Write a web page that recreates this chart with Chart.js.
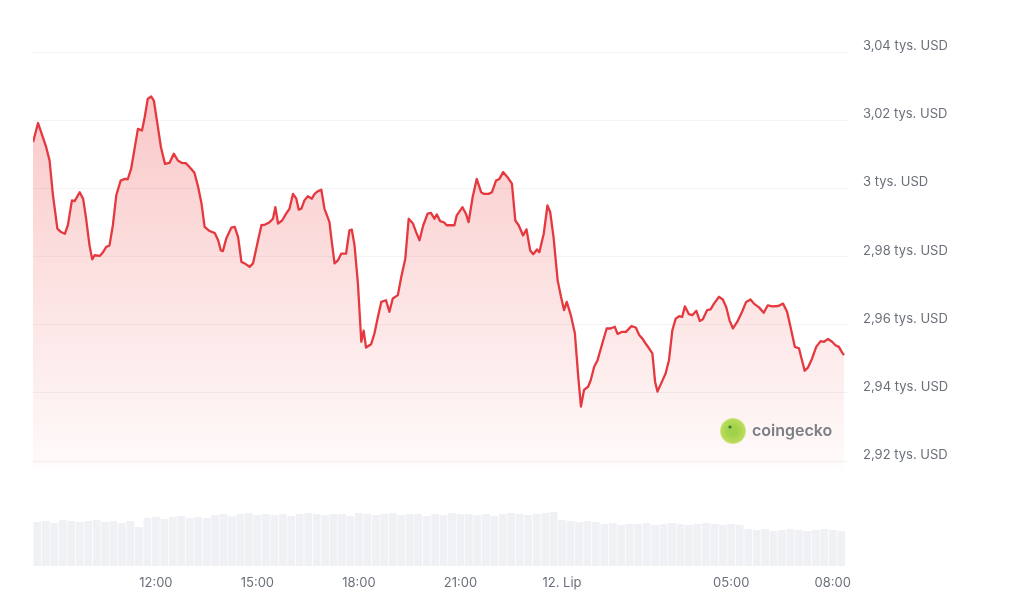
<!DOCTYPE html>
<html>
<head>
<meta charset="utf-8">
<title>ETH / USD</title>
<script src="https://cdn.jsdelivr.net/npm/chart.js@4"></script>
<style>
  body { margin: 0; background: #ffffff; }
  #wrap { width: 1024px; height: 608px; }
</style>
</head>
<body>
<div id="wrap"><canvas id="price-chart" width="1024" height="608"></canvas></div>
<script>
// czas w godzinach od polnocy 11. lip (24 = 12. Lip 00:00)
var priceTimes = [
  8.37, 8.52, 8.61, 8.76, 8.86, 8.96, 9.09, 9.20, 9.31, 9.40,
  9.52, 9.60, 9.75, 9.85, 9.94, 10.04, 10.12, 10.19, 10.34, 10.44,
  10.53, 10.63, 10.73, 10.83, 10.96, 11.08, 11.17, 11.27, 11.37, 11.47,
  11.59, 11.67, 11.76, 11.86, 11.94, 12.04, 12.15, 12.27, 12.40, 12.53,
  12.65, 12.77, 12.89, 13.04, 13.14, 13.25, 13.35, 13.44, 13.59, 13.74,
  13.84, 13.92, 13.98, 14.08, 14.23, 14.33, 14.43, 14.53, 14.62, 14.77,
  14.87, 15.02, 15.12, 15.23, 15.36, 15.46, 15.53, 15.61, 15.73, 15.85,
  15.95, 16.05, 16.15, 16.22, 16.30, 16.39, 16.49, 16.61, 16.69, 16.79,
  16.89, 16.98, 17.13, 17.18, 17.28, 17.38, 17.48, 17.62, 17.72, 17.79,
  17.87, 17.97, 18.07, 18.14, 18.21, 18.36, 18.46, 18.56, 18.66, 18.80,
  18.90, 19.00, 19.15, 19.25, 19.37, 19.47, 19.59, 19.69, 19.79, 19.90,
  20.03, 20.13, 20.23, 20.30, 20.40, 20.52, 20.59, 20.82, 20.89, 21.06,
  21.16, 21.24, 21.36, 21.48, 21.61, 21.70, 21.83, 21.93, 22.05, 22.15,
  22.26, 22.39, 22.52, 22.62, 22.72, 22.85, 22.95, 23.06, 23.15, 23.26,
  23.33, 23.46, 23.57, 23.65, 23.75, 23.87, 23.97, 24.06, 24.14, 24.26,
  24.38, 24.48, 24.56, 24.65, 24.77, 24.85, 24.95, 25.05, 25.19, 25.32,
  25.44, 25.56, 25.64, 25.76, 25.89, 26.05, 26.18, 26.28, 26.37, 26.47,
  26.57, 26.67, 26.75, 26.82, 26.93, 27.06, 27.16, 27.26, 27.36, 27.46,
  27.55, 27.63, 27.75, 27.85, 27.97, 28.07, 28.16, 28.29, 28.39, 28.49,
  28.64, 28.75, 28.85, 28.95, 29.05, 29.18, 29.32, 29.44, 29.57, 29.67,
  29.82, 29.96, 30.08, 30.21, 30.39, 30.53, 30.65, 30.75, 30.88, 31.00,
  31.09, 31.17, 31.27, 31.39, 31.51, 31.64, 31.74, 31.86, 31.98, 32.08,
  32.18, 32.26, 32.33
];

// cena w USD
var prices = [
  3013.6, 3019.2, 3016.5, 3012.1, 3008.2, 2998.0, 2988.2, 2987.2, 2986.7, 2989.2,
  2996.5, 2996.3, 2998.9, 2997.0, 2991.1, 2983.3, 2979.2, 2980.4, 2980.2, 2981.3,
  2982.8, 2983.3, 2989.2, 2998.0, 3002.3, 3002.8, 3002.7, 3005.8, 3011.6, 3017.5,
  3017.0, 3020.9, 3026.3, 3027.0, 3025.8, 3019.4, 3012.1, 3007.2, 3007.5, 3010.2,
  3008.2, 3007.5, 3007.4, 3005.8, 3004.6, 3000.4, 2995.5, 2988.7, 2987.5, 2986.9,
  2984.8, 2981.8, 2981.6, 2985.3, 2988.5, 2988.7, 2985.7, 2978.4, 2978.0, 2977.0,
  2978.0, 2984.8, 2989.2, 2989.4, 2990.1, 2991.1, 2994.5, 2989.7, 2990.6, 2992.6,
  2994.1, 2998.4, 2997.0, 2993.8, 2994.1, 2996.5, 2997.7, 2997.0, 2998.4, 2999.2,
  2999.6, 2994.1, 2990.1, 2985.7, 2978.0, 2978.9, 2980.9, 2980.9, 2987.7, 2987.9,
  2983.3, 2972.1, 2955.0, 2958.3, 2953.3, 2954.3, 2957.5, 2962.3, 2966.7, 2967.2,
  2963.8, 2967.7, 2968.7, 2974.0, 2979.4, 2991.1, 2989.8, 2987.2, 2984.8, 2989.2,
  2992.6, 2992.8, 2991.1, 2992.4, 2990.4, 2990.0, 2989.2, 2989.2, 2992.1, 2994.5,
  2992.6, 2990.1, 2997.5, 3002.8, 2998.9, 2998.4, 2998.4, 2998.9, 3002.3, 3002.8,
  3004.8, 3003.3, 3001.4, 2990.6, 2989.2, 2986.2, 2988.0, 2981.8, 2980.7, 2982.1,
  2981.3, 2986.7, 2995.0, 2993.1, 2985.7, 2973.1, 2968.2, 2964.3, 2966.7, 2962.8,
  2957.5, 2944.7, 2936.0, 2940.9, 2941.8, 2943.8, 2947.7, 2949.6, 2954.5, 2958.9,
  2958.9, 2959.4, 2957.3, 2957.9, 2957.9, 2959.6, 2959.2, 2957.0, 2956.0, 2954.5,
  2953.1, 2951.6, 2943.3, 2940.4, 2942.8, 2945.7, 2949.6, 2958.4, 2961.8, 2962.5,
  2962.3, 2965.4, 2963.1, 2962.8, 2964.1, 2961.1, 2961.6, 2964.3, 2964.5, 2966.2,
  2968.2, 2967.4, 2965.2, 2961.3, 2958.9, 2960.9, 2963.8, 2966.7, 2967.4, 2966.2,
  2965.1, 2963.5, 2965.7, 2965.4, 2965.5, 2966.2, 2963.8, 2959.4, 2953.5, 2953.1,
  2949.6, 2946.5, 2947.5, 2950.1, 2953.5, 2955.2, 2955.0, 2955.8, 2955.0, 2954.0,
  2953.5, 2952.1, 2951.1
];

// wolumen co 15 min (mln USD)
var volStart = 8.5;
var volStep = 0.25;
var volumes = [
  44, 45, 43, 46, 45, 44, 45, 46, 44, 45, 43, 45,
  39,
  48, 49, 47, 49, 50, 48, 49, 48,
  51, 52, 50, 52, 53, 51, 52, 51, 52, 50,
  52, 53, 52, 51, 52, 52, 50, 53, 52, 51,
  52, 53, 51, 52, 52, 50, 52, 51, 53, 52,
  52, 51, 52, 50, 52, 53, 52, 51, 52, 53,
  54,
  46, 45, 44, 45, 44,
  42, 43, 41, 42, 42, 43, 41, 42, 43, 42, 41, 42, 43, 42, 41, 42, 41,
  37, 36, 37, 35, 36, 37, 36, 35, 36, 37, 36, 35
];

var xTicks = [12, 15, 18, 21, 24, 29, 32];
var yTicks = [2920, 2940, 2960, 2980, 3000, 3020, 3040];

var lineColor = "#e5383f";
var textColor = "#6a7079";
var fontFamily = "Inter, 'Noto Sans', sans-serif";

function make_price_chart() {
  var priceData = priceTimes.map(function (t, i) {
    return { x: t, y: prices[i] };
  });
  var volumeData = volumes.map(function (v, i) {
    return { x: volStart + volStep * i, y: v };
  });

  var watermark = {
    id: "watermark",
    afterDatasetsDraw: function (chart) {
      var ctx = chart.ctx;
      ctx.save();
      var glow = ctx.createRadialGradient(733, 431, 4, 733, 431, 15);
      glow.addColorStop(0, "#9fd14a");
      glow.addColorStop(0.7, "#b9dc5a");
      glow.addColorStop(1, "rgba(240,230,140,0.2)");
      ctx.fillStyle = glow;
      ctx.beginPath();
      ctx.arc(733, 431, 13, 0, Math.PI * 2);
      ctx.fill();
      ctx.fillStyle = "#2e7d32";
      ctx.beginPath();
      ctx.arc(730, 427, 1.6, 0, Math.PI * 2);
      ctx.fill();
      ctx.fillStyle = "#7b7f85";
      ctx.font = "600 16px " + fontFamily;
      ctx.textBaseline = "middle";
      ctx.fillText("coingecko", 752, 431);
      ctx.restore();
    },
  };

  var config = {
    type: "line",
    data: {
      datasets: [
        {
          label: "Cena",
          data: priceData,
          yAxisID: "y",
          borderColor: lineColor,
          borderWidth: 2.3,
          pointRadius: 0,
          tension: 0,
          borderJoinStyle: "round",
          fill: "start",
          order: 1,
          backgroundColor: function (context) {
            var chart = context.chart;
            if (!chart.chartArea) {
              return "rgba(234,57,67,0.15)";
            }
            var g = chart.ctx.createLinearGradient(0, 90, 0, 472);
            g.addColorStop(0, "rgba(238,70,70,0.30)");
            g.addColorStop(0.5, "rgba(238,70,70,0.16)");
            g.addColorStop(0.97, "rgba(238,70,70,0.03)");
            g.addColorStop(1, "rgba(238,70,70,0)");
            return g;
          },
        },
        {
          type: "bar",
          label: "Wolumen",
          data: volumeData,
          yAxisID: "yv",
          backgroundColor: "#f0f1f5",
          barPercentage: 1,
          categoryPercentage: 0.92,
          order: 2,
        },
      ],
    },
    options: {
      responsive: false,
      animation: false,
      layout: { padding: { left: 33, top: 30, right: 0, bottom: 0 } },
      plugins: {
        legend: { display: false },
        tooltip: { enabled: false },
      },
      scales: {
        x: {
          type: "linear",
          min: 8.37,
          max: 32.42,
          offset: false,
          grid: { display: false, drawTicks: false },
          border: { display: false },
          afterBuildTicks: function (scale) {
            scale.ticks = xTicks.map(function (v) {
              return { value: v };
            });
          },
          afterFit: function (scale) {
            scale.height = 42;
          },
          ticks: {
            color: textColor,
            padding: 9,
            maxRotation: 0,
            autoSkip: false,
            font: { family: fontFamily, size: 13 },
            callback: function (v) {
              if (v === 24) {
                return "12. Lip";
              }
              var h = v % 24;
              return (h < 10 ? "0" + h : "" + h) + ":00";
            },
          },
        },
        y: {
          position: "right",
          min: 2889.2,
          max: 3046.5,
          grid: { color: "#f3f3f4", drawTicks: false },
          border: { display: false },
          afterBuildTicks: function (scale) {
            scale.ticks = yTicks.map(function (v) {
              return { value: v };
            });
          },
          afterFit: function (scale) {
            scale.width = 177;
          },
          ticks: {
            color: textColor,
            padding: 16,
            labelOffset: -6,
            font: { family: fontFamily, size: 13 },
            callback: function (v) {
              var s = (v / 1000).toFixed(2);
              s = s.replace(/\.?0+$/, "").replace(".", ",");
              return s + " tys. USD";
            },
          },
        },
        yv: {
          display: false,
          min: 0,
          max: 536,
        },
      },
    },
    plugins: [watermark],
  };

  var canvas = document.getElementById("price-chart");
  if (canvas.chart) {
    canvas.chart.destroy();
  }
  canvas.chart = new Chart(canvas.getContext("2d"), config);
}

make_price_chart();
</script>
</body>
</html>
